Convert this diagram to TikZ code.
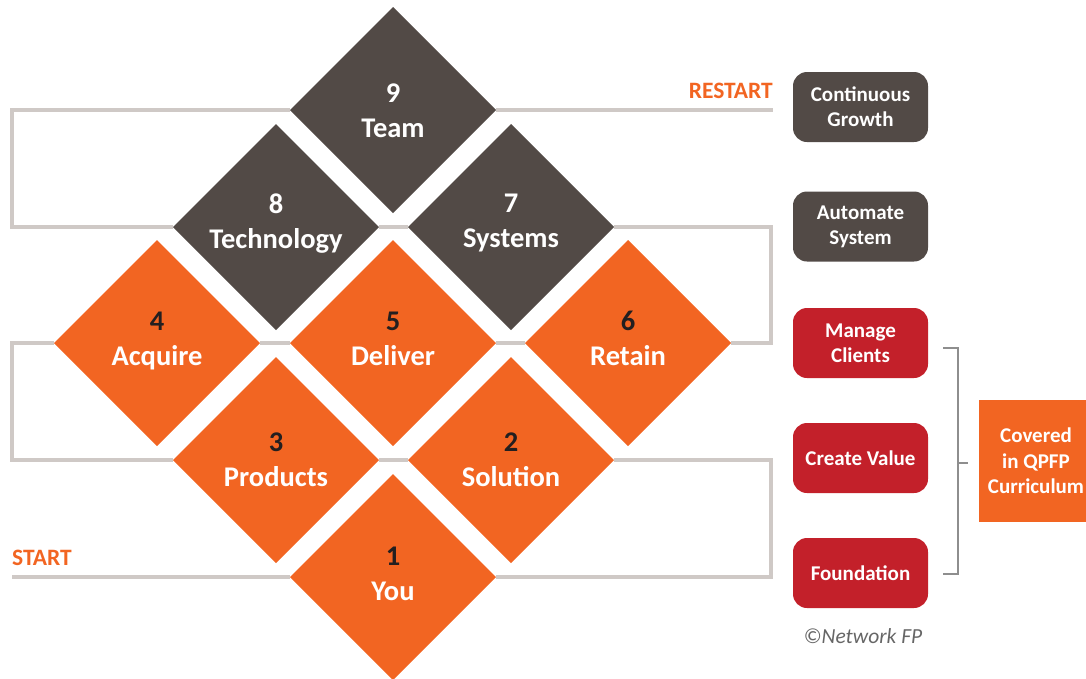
\documentclass[tikz,border=0pt]{standalone}
\usepackage{fontspec}
\setmainfont{Carlito}
\usepackage{tikz}
\usetikzlibrary{shapes.geometric}

\definecolor{qorange}{HTML}{F26522}
\definecolor{qgrey}{HTML}{524A46}
\definecolor{qred}{HTML}{C3202A}
\definecolor{qline}{HTML}{CFC9C6}
\definecolor{qbracket}{HTML}{8E8E8E}
\definecolor{qnum}{HTML}{231F20}

\tikzset{
  tile/.style={diamond, aspect=1, minimum width=206pt, minimum height=206pt,
    inner sep=0pt, outer sep=0pt},
  orangetile/.style={tile, fill=qorange},
  greytile/.style={tile, fill=qgrey},
  tiletext/.style={inner sep=0pt, align=center, text=white,
    font=\fontsize{28.5}{35}\selectfont\bfseries},
  track/.style={draw=qline, line width=4pt},
  stagebox/.style={rounded corners=14pt, minimum width=135pt, minimum height=70pt,
    inner sep=0pt, align=center, text=white,
    font=\fontsize{21}{25}\selectfont\bfseries},
  flag/.style={text=qorange, inner sep=0pt, font=\fontsize{23.5}{26}\selectfont\bfseries},
}

\begin{document}
\begin{tikzpicture}[x=1pt, y=-1pt]
        \useasboundingbox (0,0) rectangle (1086,678);
        \coordinate (railL) at (12,0);
        \coordinate (railR) at (771,0);
        \coordinate (start) at (12,577);
        \coordinate (restart) at (773,110);

        % the nine tiles
        \node[orangetile] (t1) at (393,577) {};
        \node[orangetile] (t2) at (511,460) {};
        \node[orangetile] (t3) at (276,460) {};
        \node[orangetile] (t4) at (157,343) {};
        \node[orangetile] (t5) at (393,343) {};
        \node[orangetile] (t6) at (628,343) {};
        \node[greytile] (t7) at (511,227) {};
        \node[greytile] (t8) at (276,227) {};
        \node[greytile] (t9) at (393,110) {};

        \node[tiletext] (t1txt) at ([yshift=-1.5pt]t1.center) {\textcolor{qnum}{1}\\You\strut};
        \node[tiletext] (t2txt) at ([yshift=-5pt]t2.center) {\textcolor{qnum}{2}\\Solution\strut};
        \node[tiletext] (t3txt) at ([yshift=-5pt]t3.center) {\textcolor{qnum}{3}\\Products\strut};
        \node[tiletext] (t4txt) at ([yshift=-1pt]t4.center) {\textcolor{qnum}{4}\\Acquire\strut};
        \node[tiletext] (t5txt) at ([yshift=-1pt]t5.center) {\textcolor{qnum}{5}\\Deliver\strut};
        \node[tiletext] (t6txt) at ([yshift=-1pt]t6.center) {\textcolor{qnum}{6}\\Retain\strut};
        \node[tiletext] (t7txt) at ([yshift=1pt]t7.center) {7\\Systems\strut};
        \node[tiletext] (t8txt) at ([yshift=1pt]t8.center) {8\\Technology\strut};
        \node[tiletext] (t9txt) at ([yshift=-6pt]t9.center) {9\\Team\strut};

        % tracks between the tiles
        \draw[track] (start) -- (t1.west);
        \draw[track] (t1.east) -| (railR |- t2.east) -- (t2.east);
        \draw[track] (t3.east) -- (t2.west);
        \draw[track] (t3.west) -| (railL |- t4.west) -- (t4.west);
        \draw[track] (t4.east) -- (t5.west);
        \draw[track] (t5.east) -- (t6.west);
        \draw[track] (t6.east) -| (railR |- t7.east) -- (t7.east);
        \draw[track] (t8.east) -- (t7.west);
        \draw[track] (t8.west) -| (railL |- t9.west) -- (t9.west);
        \draw[track] (t9.east) -- (restart);

        \node[flag, anchor=base west] (startlbl) at (12,565) {START};
        \node[flag, anchor=base east] (restartlbl) at (773,98) {RESTART};

        % stages on the right
        \node[stagebox, fill=qgrey] (growth) at (860.5,107) {Continuous\\Growth};
        \node[stagebox, fill=qgrey] (automate) at (860.5,226.5) {Automate\\System};
        \node[stagebox, fill=qred] (manage) at (860.5,343) {Manage\\Clients};
        \node[stagebox, fill=qred] (value) at (860.5,458) {Create Value};
        \node[stagebox, fill=qred] (found) at (860.5,573) {Foundation};

        \coordinate (brT) at (943,348);
        \coordinate (brB) at (943,574);
        \coordinate (brM) at (958,463);
        \draw[qbracket, line width=2.5pt] (brT) -- (958,348) -- (958,574) -- (brB);
        \draw[qbracket, line width=2.5pt] (brM) -- (968,463);

        \node[fill=qorange, minimum width=114pt, minimum height=122pt, inner sep=0pt,
              align=center, text=white, font=\fontsize{21}{25.5}\selectfont\bfseries]
              (qpfp) at (1036,461) {Covered\\in QPFP\\Curriculum};

        \node[text=black!60, font=\fontsize{21.5}{24}\selectfont\itshape] (copy) at (863,636) {©Network FP};
\end{tikzpicture}
\end{document}
